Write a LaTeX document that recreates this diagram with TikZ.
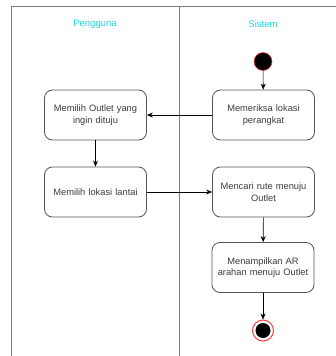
\documentclass[tikz,border=0pt]{standalone}
\usepackage{fontspec}
\setmainfont{Liberation Sans}
\usetikzlibrary{arrows.meta}
\definecolor{lanecol}{RGB}{125,125,125}
\definecolor{boxcol}{RGB}{85,85,85}
\definecolor{txtcol}{RGB}{60,60,60}
\definecolor{headcol}{RGB}{30,215,225}
\definecolor{ringred}{RGB}{255,60,60}
\tikzset{
  actbox/.style={draw=boxcol, line width=0.8pt, rounded corners=8pt, minimum width=101pt, minimum height=50pt, align=center, text=txtcol, font=\fontsize{9.3}{11.5}\selectfont, inner sep=1pt, text width=100pt},
  lane/.style={draw=lanecol, line width=1pt},
  flow/.style={draw=black, line width=0.6pt, -{Stealth[length=6pt,width=5pt]}},
  head/.style={text=headcol, font=\fontsize{9.5}{11}\selectfont},
  startdot/.style={circle, fill=black, draw=ringred, line width=0.5pt, minimum size=18pt, inner sep=0pt},
}
\begin{document}
\begin{tikzpicture}[x=1pt,y=-1pt]
\useasboundingbox (0,0) rectangle (336,356);
\fill[white] (0,0) rectangle (336,356);
% swimlanes
\draw[lane] (11,360) -- (11,6) -- (340,6);
\draw[lane] (179,6) -- (179,360);
\node[head] (hp) at (95,24) {Pengguna};
\node[head] (hs) at (263,24) {Sistem};
% nodes
\node[startdot] (start) at (263,61.5) {};
\node[actbox] (r1) at (263.5,115) {Memeriksa lokasi\\perangkat};
\node[actbox] (l1) at (95.5,115) {Memilih Outlet yang\\ingin dituju};
\node[actbox] (l2) at (95.5,192) {Memilih lokasi lantai};
\node[actbox] (r2) at (263.5,192) {Mencari rute menuju\\Outlet};
\node[actbox] (r3) at (263,267.5) {Menampilkan AR\\arahan menuju Outlet};
\node[circle, draw=ringred, line width=1pt, minimum size=21pt, inner sep=0pt] (end) at (263,330.5) {};
\node[circle, fill=black, minimum size=15pt, inner sep=0pt] (endin) at (263,330.5) {};
% flows
\draw[flow] (start) -- (r1);
\draw[flow] (r1) -- (l1);
\draw[flow] (l1) -- (l2);
\draw[flow] (l2) -- (r2);
\draw[flow] (r2) -- (r3);
\draw[flow] (r3) -- (end);
\end{tikzpicture}
\end{document}
